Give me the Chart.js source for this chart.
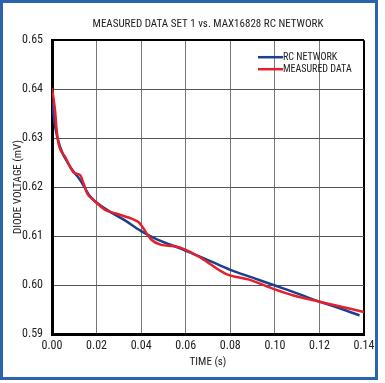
<!DOCTYPE html>
<html>
<head>
<meta charset="utf-8">
<script src="https://cdn.jsdelivr.net/npm/chart.js@4"></script>
<style>
  html, body { margin: 0; padding: 0; background: #fff; }
  #wrap { position: relative; width: 385px; height: 383px; }
  #frame { position: absolute; left: 0; top: 0; width: 378px; height: 380px; box-sizing: border-box; border: 3px solid #2a64ad; background: #fff; }
  #chart { position: absolute; left: 0; top: 0; }
</style>
</head>
<body>
<div id="wrap">
  <div id="frame"></div>
  <canvas id="chart" width="385" height="383"></canvas>
</div>
<script>
// values
const rcTime = [0, 0.0014, 0.0036, 0.0082, 0.0127, 0.0173, 0.0249, 0.0324, 0.04, 0.0476, 0.058, 0.07, 0.08, 0.09, 0.10, 0.11, 0.12, 0.13, 0.138];
const rcVolts = [0.6375, 0.6323, 0.6282, 0.6241, 0.6214, 0.6180, 0.6153, 0.6133, 0.6110, 0.6092, 0.6074, 0.6051, 0.6031, 0.6015, 0.5999, 0.5983, 0.5966, 0.5951, 0.5938];

const measTime = [0, 0.0014, 0.002, 0.003, 0.006, 0.0097, 0.0127, 0.0142, 0.0158, 0.0188, 0.0241, 0.0286, 0.037, 0.0392, 0.0445, 0.049, 0.055, 0.06, 0.067, 0.078, 0.0885, 0.10, 0.108, 0.12, 0.14];
const measVolts = [0.6402, 0.6355, 0.6321, 0.6288, 0.6261, 0.6230, 0.6224, 0.6207, 0.6187, 0.6173, 0.6153, 0.6146, 0.6133, 0.6127, 0.6093, 0.6082, 0.6079, 0.6072, 0.6055, 0.6023, 0.6011, 0.5991, 0.5979, 0.5966, 0.5945];

const seriesNames = ['RC NETWORK', 'MEASURED DATA'];
const seriesColors = ['#1c3f8e', '#e3202c'];

const FONT = "'Roboto Condensed', 'Liberation Sans', sans-serif";

function toPoints(xs, ys) {
    return xs.map(function (x, i) { return { x: x, y: ys[i] }; });
}

// legend drawn inside the plot, top right
const insideLegend = {
    id: 'insideLegend',
    afterDatasetsDraw: function (chart) {
        const ctx = chart.ctx;
        const area = chart.chartArea;
        ctx.save();
        ctx.font = '10px ' + FONT;
        ctx.textBaseline = 'middle';
        ctx.fillStyle = '#222';
        seriesNames.forEach(function (name, i) {
            const y = area.top + 17 + i * 12;
            const x0 = area.left + 206;
            ctx.strokeStyle = seriesColors[i];
            ctx.lineWidth = 2.5;
            ctx.beginPath();
            ctx.moveTo(x0, y);
            ctx.lineTo(x0 + 25, y);
            ctx.stroke();
            ctx.fillText(name, x0 + 25, y);
        });
        ctx.restore();
    }
};

new Chart(document.getElementById('chart'), {
    type: 'line',
    data: {
        datasets: [{
            label: seriesNames[0],
            data: toPoints(rcTime, rcVolts),
            borderColor: seriesColors[0],
            borderWidth: 2.5,
            pointRadius: 0,
            cubicInterpolationMode: 'monotone',
            order: 1
        }, {
            label: seriesNames[1],
            data: toPoints(measTime, measVolts),
            borderColor: seriesColors[1],
            borderWidth: 2.5,
            pointRadius: 0,
            cubicInterpolationMode: 'monotone',
            order: 0
        }]
    },
    options: {
        responsive: false,
        animation: false,
        layout: { padding: { right: 21, left: 0, bottom: 0, top: 0 } },
        plugins: {
            legend: { display: false },
            tooltip: { enabled: false },
            title: {
                display: true,
                fullSize: false,
                text: 'MEASURED DATA SET 1 vs. MAX16828 RC NETWORK',
                color: '#222',
                font: { family: FONT, size: 11, weight: 'normal' },
                padding: { top: 18, bottom: 9 }
            }
        },
        scales: {
            x: {
                type: 'linear',
                min: 0,
                max: 0.14,
                ticks: {
                    stepSize: 0.02,
                    color: '#222',
                    padding: 5,
                    font: { family: FONT, size: 12 },
                    callback: function (v) { return v.toFixed(2); }
                },
                grid: {
                    color: function (c) { return c.tick.value >= 0.14 ? '#000' : '#777'; },
                    lineWidth: function (c) { return c.tick.value >= 0.14 ? 2 : 1; },
                    drawTicks: false
                },
                border: { color: '#000', width: 3 },
                title: {
                    display: true,
                    text: 'TIME (s)',
                    color: '#222',
                    font: { family: FONT, size: 11 },
                    padding: { top: 0, bottom: 14 }
                },
                afterFit: function (scale) { scale.height = 49; }
            },
            y: {
                min: 0.59,
                max: 0.65,
                ticks: {
                    stepSize: 0.01,
                    color: '#222',
                    padding: 9,
                    font: { family: FONT, size: 12 },
                    callback: function (v) { return v.toFixed(2); }
                },
                grid: {
                    color: function (c) { return c.tick.value >= 0.65 ? '#000' : '#555'; },
                    lineWidth: function (c) { return c.tick.value >= 0.65 ? 2 : 1; },
                    drawTicks: false
                },
                border: { color: '#000', width: 3 },
                title: {
                    display: true,
                    text: 'DIODE VOLTAGE (mV)',
                    color: '#222',
                    font: { family: FONT, size: 11 },
                    padding: { top: 12 }
                },
                afterFit: function (scale) { scale.width = 52; }
            }
        }
    },
    plugins: [insideLegend]
});
</script>
</body>
</html>
